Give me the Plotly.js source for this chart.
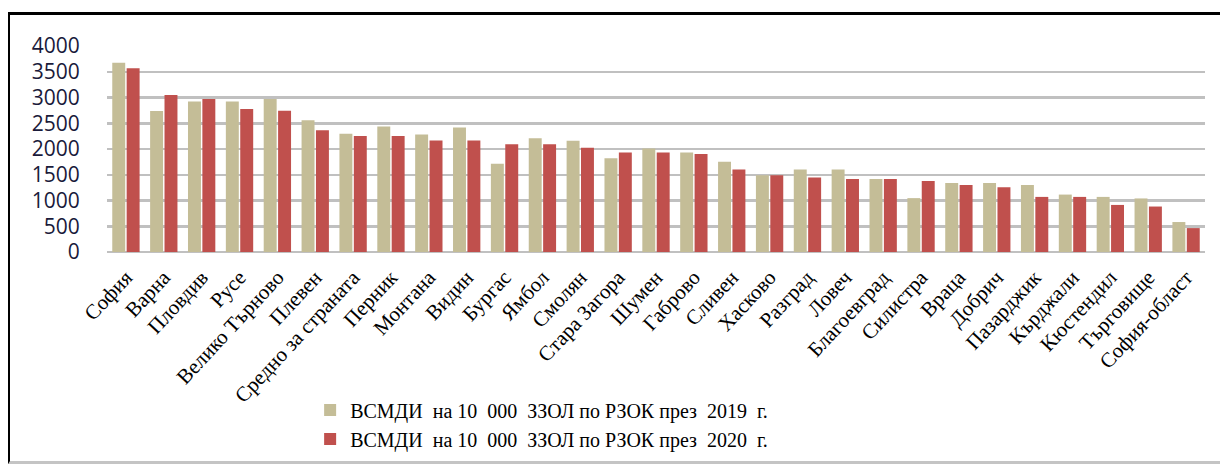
<!DOCTYPE html>
<html>
<head>
<meta charset="utf-8">
<script src="https://cdn.plot.ly/plotly-3.0.1.min.js"></script>
<style>
html,body{margin:0;padding:0;background:#fff;}
#wrap{position:absolute;left:0;top:0;width:1220px;height:470px;overflow:hidden;background:#fff;}
#frame{position:absolute;left:8px;top:12px;width:1220px;height:452px;border-top:3px solid #000;border-left:2px solid #000;border-bottom:3px solid #c4c4c4;box-sizing:border-box;}
#chart{position:absolute;left:0;top:0;width:1220px;height:470px;}
</style>
</head>
<body>
<div id="wrap">
<div id="frame"></div>
<div id="chart"></div>
</div>
<script>
const categories = ["София","Варна","Пловдив","Русе","Велико Търново","Плевен","Средно за страната","Перник","Монтана","Видин","Бургас","Ямбол","Смолян","Стара Загора","Шумен","Габрово","Сливен","Хасково","Разград","Ловеч","Благоевград","Силистра","Враца","Добрич","Пазарджик","Кърджали","Кюстендил","Търговище","София-област"];
const values2019 = [3675,2736,2924,2924,2973,2560,2297,2435,2280,2417,1716,2210,2160,1822,2010,1934,1754,1491,1603,1603,1416,1046,1341,1341,1303,1115,1070,1040,582];
const values2020 = [3568,3048,2973,2779,2742,2366,2254,2254,2167,2167,2092,2092,2022,1934,1934,1904,1603,1491,1446,1416,1416,1378,1303,1258,1070,1070,914,883,464];
const seriesNames = ["ВСМДИ\u00A0 на 10\u00A0 000\u00A0 ЗЗОЛ по РЗОК през\u00A0 2019\u00A0 г.","ВСМДИ\u00A0 на 10\u00A0 000\u00A0 ЗЗОЛ по РЗОК през\u00A0 2020\u00A0 г."];
const yTicks = [0,500,1000,1500,2000,2500,3000,3500,4000];

const serif = '"Times New Roman", "Liberation Serif", "DejaVu Serif", serif';
const traces = [
  {type:'bar', x:categories, y:values2019, name:seriesNames[0], marker:{color:'#C4BD97'}},
  {type:'bar', x:categories, y:values2020, name:seriesNames[1], marker:{color:'#C0504D'}}
];
const layout = {
  width:1220, height:470,
  paper_bgcolor:'rgba(0,0,0,0)', plot_bgcolor:'rgba(0,0,0,0)',
  margin:{l:107, r:15, t:46, b:211},
  barmode:'group', bargap:0.24, bargroupgap:0.1,
  showlegend:true,
  legend:{orientation:'v', x:0.185, xanchor:'left', y:-0.672, yanchor:'top',
    font:{family:serif, size:20, color:'#000'},
    tracegroupgap:0, bgcolor:'rgba(0,0,0,0)', itemwidth:30},
  xaxis:{type:'category', tickangle:-47, showgrid:false, zeroline:false, showline:false,
    ticks:'', ticklabelstandoff:8, tickfont:{family:serif, size:21, color:'#000'},
    automargin:false},
  yaxis:{range:[0,4000], tickvals:yTicks, ticktext:yTicks.map(String), showgrid:true,
    gridcolor:'#c0c0c0', gridwidth:2.5, zeroline:true, zerolinecolor:'#c0c0c0', zerolinewidth:2.5,
    showline:false, ticks:'outside', ticklen:22, tickcolor:'rgba(0,0,0,0)',
    tickfont:{family:'Open Sans', size:21, color:'#1a1a3a'},
    automargin:false}
};
Plotly.newPlot('chart', traces, layout, {displayModeBar:false, staticPlot:true});
</script>
</body>
</html>
